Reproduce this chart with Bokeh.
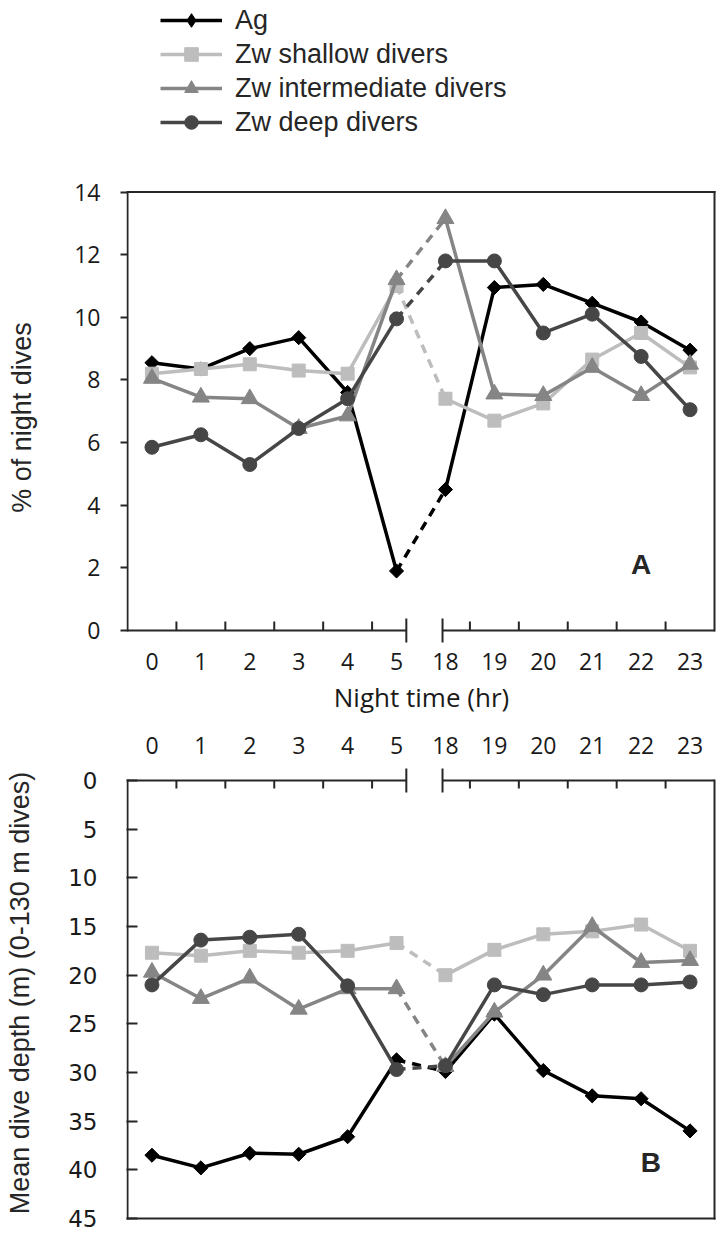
import numpy as np
from bokeh.plotting import figure
from bokeh.models import Range1d, FixedTicker, Legend, LegendItem
from bokeh.layouts import column
from bokeh.embed import file_html
from bokeh.resources import INLINE
from bokeh.core.properties import value

# ---------------- data ----------------
hours = ["0", "1", "2", "3", "4", "5", "18", "19", "20", "21", "22", "23"]
series_names = ["Ag", "Zw shallow divers", "Zw intermediate divers", "Zw deep divers"]

# Panel A: % of night dives
pct_ag      = [8.55, 8.35, 9.0, 9.35, 7.6, 1.9, 4.5, 10.95, 11.05, 10.45, 9.85, 8.95]
pct_shallow = [8.2, 8.35, 8.5, 8.3, 8.2, 11.0, 7.4, 6.7, 7.25, 8.65, 9.5, 8.4]
pct_inter   = [8.05, 7.45, 7.4, 6.45, 6.85, 11.2, 13.15, 7.55, 7.5, 8.4, 7.5, 8.5]
pct_deep    = [5.85, 6.25, 5.3, 6.45, 7.4, 9.95, 11.8, 11.8, 9.5, 10.1, 8.75, 7.05]

# Panel B: mean dive depth (m)
depth_ag      = [38.5, 39.8, 38.3, 38.4, 36.6, 28.7, 29.9, 24.0, 29.8, 32.4, 32.7, 36.0]
depth_shallow = [17.7, 18.0, 17.5, 17.7, 17.5, 16.7, 20.0, 17.4, 15.8, 15.5, 14.8, 17.5]
depth_inter   = [19.7, 22.4, 20.3, 23.5, 21.4, 21.4, 29.4, 23.8, 20.0, 15.0, 18.7, 18.5]
depth_deep    = [21.0, 16.4, 16.1, 15.8, 21.1, 29.7, 29.3, 21.0, 22.0, 21.0, 21.0, 20.7]

yticks_a = [0, 2, 4, 6, 8, 10, 12, 14]
yticks_b = [0, 5, 10, 15, 20, 25, 30, 35, 40, 45]

# ---------------- styles ----------------
colors = ["#000000", "#bdbdbd", "#858585", "#464646"]
markers = ["square", "square", "triangle", "circle"]
legend_markers = ["diamond", "square", "triangle", "circle"]
msizes = [10, 13, 17, 14]
mangles = [np.pi / 4, 0, 0, 0]
LW = 3.5
DASH = "9 7"
AXC = "#262626"
TXT = "#1a1a1a"
TICKFONT = "Open Sans"

n = len(hours)
xs = list(range(n))
split = hours.index("18")          # first index after the time gap
x_lo, x_hi = -0.5, n - 0.5
brk1, brk2 = 5.2, 5.94            # position of the axis-break marks
boundaries = [i + 0.5 for i in range(n - 1) if i + 1 != split]
overrides = {i: h for i, h in enumerate(hours)}

W = 716
ML = 126
FW = W - ML
ppx = (FW - 3) / n


def draw_series(p, ys, k):
    c = colors[k]
    p.line(xs[:split], ys[:split], line_color=c, line_width=LW)
    p.line(xs[split:], ys[split:], line_color=c, line_width=LW)
    p.line(xs[split - 1:split + 1], ys[split - 1:split + 1], line_color=c,
           line_width=LW, line_dash=DASH)
    p.scatter(xs, ys, marker=markers[k], size=msizes[k], angle=mangles[k],
              fill_color=c, line_color=c, line_width=1)


def draw_frame(p, y_axis, y_far, tick_len, bar_len):
    p.segment(x0=[x_lo, x_lo, x_hi], y0=[y_axis, y_far, y_far],
              x1=[x_lo, x_hi, x_hi], y1=[y_far, y_far, y_axis],
              line_color=AXC, line_width=2, line_cap="square")
    p.segment(x0=[x_lo, brk2], y0=[y_axis, y_axis], x1=[brk1, x_hi], y1=[y_axis, y_axis],
              line_color=AXC, line_width=2)
    p.segment(x0=[brk1, brk2], y0=[y_axis - bar_len] * 2, x1=[brk1, brk2],
              y1=[y_axis + bar_len] * 2, line_color=AXC, line_width=2)
    p.segment(x0=boundaries, y0=[y_axis] * len(boundaries), x1=boundaries,
              y1=[y_axis + tick_len] * len(boundaries), line_color=AXC, line_width=2)


def base_fig(height, yr, mt, mb, xloc):
    p = figure(width=W, height=height, output_backend="svg", toolbar_location=None,
               x_range=Range1d(x_lo - 1 / ppx, x_hi + 2 / ppx), y_range=yr,
               min_border_left=ML, min_border_right=0, min_border_top=mt,
               min_border_bottom=mb, x_axis_location=xloc)
    p.outline_line_color = None
    p.grid.visible = False
    p.background_fill_color = "white"
    p.border_fill_color = "white"
    xa = p.xaxis[0]
    xa.ticker = FixedTicker(ticks=xs)
    xa.major_label_overrides = overrides
    xa.axis_line_color = None
    xa.major_tick_line_color = None
    xa.minor_tick_line_color = None
    xa.major_tick_in = 0
    xa.major_tick_out = 0
    xa.major_label_text_font = TICKFONT
    xa.major_label_text_font_size = "23px"
    xa.major_label_text_color = TXT
    ya = p.yaxis[0]
    ya.axis_line_color = None
    ya.minor_tick_line_color = None
    ya.major_tick_line_color = AXC
    ya.major_tick_line_width = 2
    ya.major_label_text_color = TXT
    ya.axis_label_text_font = "Liberation Sans"
    ya.axis_label_text_font_size = "27px"
    ya.axis_label_text_font_style = "normal"
    ya.axis_label_text_color = AXC
    return p


# ---------------- legend figure ----------------
LH = 150
pL = figure(width=W, height=LH, output_backend="svg", toolbar_location=None,
            x_range=Range1d(0, 1), y_range=Range1d(-10, -9), x_axis_type=None,
            y_axis_type=None, min_border_left=ML, min_border_top=0,
            min_border_right=0, min_border_bottom=0)
pL.outline_line_color = None
pL.grid.visible = False
items = []
for k, (name, ys) in enumerate(zip(series_names, [pct_ag, pct_shallow, pct_inter, pct_deep])):
    rl = pL.line(xs, ys, line_color=colors[k], line_width=LW)
    rs = pL.scatter(xs, ys, marker=legend_markers[k], size=msizes[k],
                    fill_color=colors[k], line_color=colors[k])
    items.append(LegendItem(label=name, renderers=[rl, rs]))
leg = Legend(items=items, location=(34, 11), orientation="vertical",
             glyph_width=62, glyph_height=34, label_height=34, label_standoff=13,
             spacing=0, padding=0, margin=0, border_line_color=None,
             background_fill_alpha=0, label_text_font="Liberation Sans",
             label_text_font_size="27px", label_text_color=AXC)
pL.add_layout(leg)

# ---------------- panel A ----------------
ppyA = 31.32
hA, mtA, mbA = 572, 38, 76
fhA = hA - mtA - mbA
padA = 16 / ppyA
pA = base_fig(hA, Range1d(-padA, -padA + fhA / ppyA), mtA, mbA, "below")
xa = pA.xaxis[0]
xa.major_label_standoff = 6
xa.axis_label = "Night time (hr)"
xa.axis_label_standoff = 6
xa.axis_label_text_font = TICKFONT
xa.axis_label_text_font_size = "26px"
xa.axis_label_text_font_style = "normal"
xa.axis_label_text_color = TXT
ya = pA.yaxis[0]
ya.ticker = FixedTicker(ticks=yticks_a)
ya.major_tick_in = 1
ya.major_tick_out = 6
ya.major_label_standoff = 20
ya.major_label_text_font = TICKFONT
ya.major_label_text_font_size = "23px"
ya.axis_label = "% of night dives"
ya.axis_label_standoff = 34

draw_frame(pA, yticks_a[0], yticks_a[-1], 9 / ppyA, 12 / ppyA)
for k, ys in enumerate([pct_ag, pct_shallow, pct_inter, pct_deep]):
    draw_series(pA, ys, k)
pA.text(x=[10], y=[2.1], text=["A"], text_font=value("Liberation Sans"),
        text_font_style="bold", text_font_size="28px", text_color=AXC,
        text_align="center", text_baseline="middle")

# ---------------- panel B ----------------
ppyB = 9.733
hB, mtB, mbB = 511, 42, 12
fhB = hB - mtB - mbB
padB = 16 / ppyB
pB = base_fig(hB, Range1d(-padB + fhB / ppyB, -padB), mtB, mbB, "above")
pB.xaxis[0].major_label_standoff = 11
yb = pB.yaxis[0]
yb.ticker = FixedTicker(ticks=yticks_b)
yb.major_tick_in = 11
yb.major_tick_out = 0
yb.major_label_standoff = 29
yb.major_label_text_font = "DejaVu Sans"
yb.major_label_text_font_size = "23px"
yb.axis_label = "Mean dive depth (m) (0-130 m dives)"
yb.axis_label_standoff = 30

draw_frame(pB, yticks_b[0], yticks_b[-1], 8 / ppyB, 12 / ppyB)
for k, ys in enumerate([depth_ag, depth_shallow, depth_inter, depth_deep]):
    draw_series(pB, ys, k)
pB.text(x=[10.2], y=[39.2], text=["B"], text_font=value("Liberation Sans"),
        text_font_style="bold", text_font_size="28px", text_color=AXC,
        text_align="center", text_baseline="middle")

layout = column(pL, pA, pB, spacing=0)
open("out.html", "w").write(file_html(layout, INLINE))
